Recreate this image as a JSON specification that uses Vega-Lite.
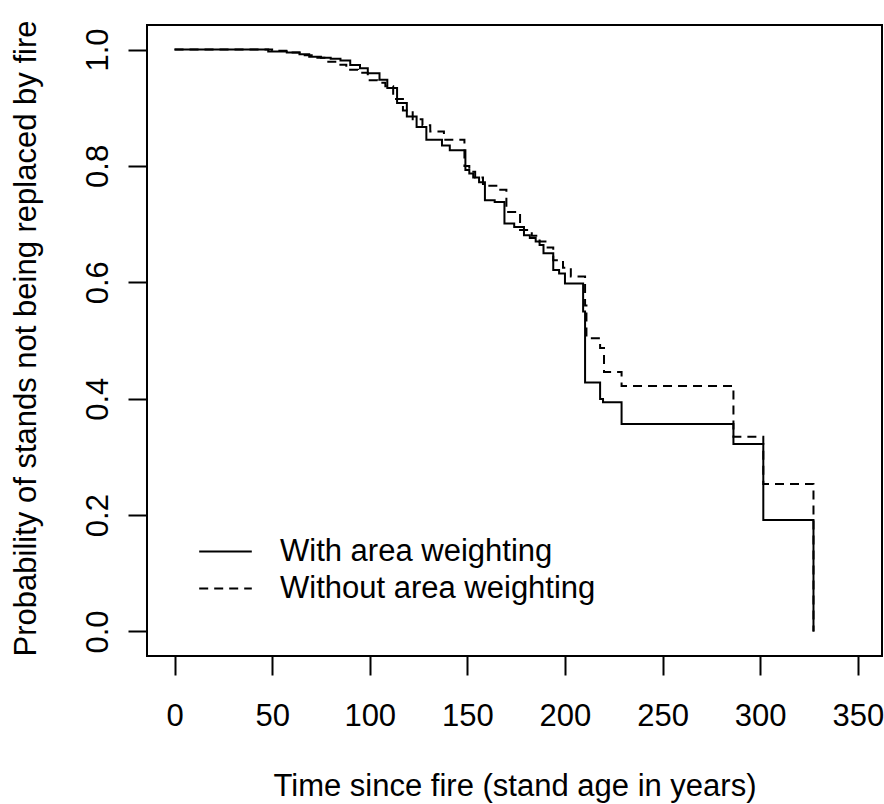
{
  "$schema": "https://vega.github.io/schema/vega-lite/v6.json",
  "width": 735,
  "height": 631,
  "autosize": {"type": "none"},
  "padding": {"left": 147, "top": 25, "right": 2, "bottom": 148},
  "background": "white",
  "config": {
    "font": "Liberation Sans",
    "view": {"stroke": "black", "strokeWidth": 2}
  },
  "data": {
    "values": [
      {"age": 0, "p": 1.0, "method": "With area weighting"},
      {"age": 48, "p": 0.9965, "method": "With area weighting"},
      {"age": 57.5, "p": 0.995, "method": "With area weighting"},
      {"age": 64, "p": 0.992, "method": "With area weighting"},
      {"age": 69, "p": 0.9875, "method": "With area weighting"},
      {"age": 75, "p": 0.986, "method": "With area weighting"},
      {"age": 80, "p": 0.984, "method": "With area weighting"},
      {"age": 85, "p": 0.981, "method": "With area weighting"},
      {"age": 90, "p": 0.9735, "method": "With area weighting"},
      {"age": 95, "p": 0.968, "method": "With area weighting"},
      {"age": 99, "p": 0.959, "method": "With area weighting"},
      {"age": 105, "p": 0.948, "method": "With area weighting"},
      {"age": 109, "p": 0.934, "method": "With area weighting"},
      {"age": 114, "p": 0.908, "method": "With area weighting"},
      {"age": 119, "p": 0.885, "method": "With area weighting"},
      {"age": 124, "p": 0.867, "method": "With area weighting"},
      {"age": 129, "p": 0.845, "method": "With area weighting"},
      {"age": 137, "p": 0.835, "method": "With area weighting"},
      {"age": 141, "p": 0.827, "method": "With area weighting"},
      {"age": 149, "p": 0.793, "method": "With area weighting"},
      {"age": 151, "p": 0.787, "method": "With area weighting"},
      {"age": 153, "p": 0.78, "method": "With area weighting"},
      {"age": 156, "p": 0.772, "method": "With area weighting"},
      {"age": 159, "p": 0.741, "method": "With area weighting"},
      {"age": 164, "p": 0.738, "method": "With area weighting"},
      {"age": 169, "p": 0.701, "method": "With area weighting"},
      {"age": 174, "p": 0.695, "method": "With area weighting"},
      {"age": 179, "p": 0.681, "method": "With area weighting"},
      {"age": 182, "p": 0.676, "method": "With area weighting"},
      {"age": 185, "p": 0.67, "method": "With area weighting"},
      {"age": 187, "p": 0.664, "method": "With area weighting"},
      {"age": 189, "p": 0.65, "method": "With area weighting"},
      {"age": 194, "p": 0.621, "method": "With area weighting"},
      {"age": 197, "p": 0.615, "method": "With area weighting"},
      {"age": 200, "p": 0.598, "method": "With area weighting"},
      {"age": 209.3, "p": 0.55, "method": "With area weighting"},
      {"age": 210.3, "p": 0.428, "method": "With area weighting"},
      {"age": 218, "p": 0.3995, "method": "With area weighting"},
      {"age": 219.5, "p": 0.394, "method": "With area weighting"},
      {"age": 229, "p": 0.3565, "method": "With area weighting"},
      {"age": 286.3, "p": 0.322, "method": "With area weighting"},
      {"age": 301.6, "p": 0.1916, "method": "With area weighting"},
      {"age": 327.3, "p": 0.0, "method": "With area weighting"},
      {"age": 0, "p": 1.0, "method": "Without area weighting"},
      {"age": 50, "p": 0.998, "method": "Without area weighting"},
      {"age": 58, "p": 0.995, "method": "Without area weighting"},
      {"age": 66, "p": 0.99, "method": "Without area weighting"},
      {"age": 72, "p": 0.986, "method": "Without area weighting"},
      {"age": 78, "p": 0.979, "method": "Without area weighting"},
      {"age": 83, "p": 0.974, "method": "Without area weighting"},
      {"age": 88, "p": 0.965, "method": "Without area weighting"},
      {"age": 94, "p": 0.96, "method": "Without area weighting"},
      {"age": 99, "p": 0.947, "method": "Without area weighting"},
      {"age": 104, "p": 0.943, "method": "Without area weighting"},
      {"age": 108, "p": 0.937, "method": "Without area weighting"},
      {"age": 112, "p": 0.915, "method": "Without area weighting"},
      {"age": 117, "p": 0.895, "method": "Without area weighting"},
      {"age": 122, "p": 0.88, "method": "Without area weighting"},
      {"age": 127, "p": 0.87, "method": "Without area weighting"},
      {"age": 131, "p": 0.859, "method": "Without area weighting"},
      {"age": 138, "p": 0.845, "method": "Without area weighting"},
      {"age": 148.5, "p": 0.8, "method": "Without area weighting"},
      {"age": 151, "p": 0.79, "method": "Without area weighting"},
      {"age": 154, "p": 0.78, "method": "Without area weighting"},
      {"age": 158, "p": 0.766, "method": "Without area weighting"},
      {"age": 166, "p": 0.759, "method": "Without area weighting"},
      {"age": 170, "p": 0.721, "method": "Without area weighting"},
      {"age": 177, "p": 0.69, "method": "Without area weighting"},
      {"age": 183, "p": 0.68, "method": "Without area weighting"},
      {"age": 187, "p": 0.67, "method": "Without area weighting"},
      {"age": 190, "p": 0.66, "method": "Without area weighting"},
      {"age": 194, "p": 0.638, "method": "Without area weighting"},
      {"age": 199, "p": 0.625, "method": "Without area weighting"},
      {"age": 203, "p": 0.61, "method": "Without area weighting"},
      {"age": 210.3, "p": 0.56, "method": "Without area weighting"},
      {"age": 211, "p": 0.504, "method": "Without area weighting"},
      {"age": 218, "p": 0.487, "method": "Without area weighting"},
      {"age": 220, "p": 0.446, "method": "Without area weighting"},
      {"age": 229, "p": 0.4218, "method": "Without area weighting"},
      {"age": 286.3, "p": 0.3348, "method": "Without area weighting"},
      {"age": 301.6, "p": 0.2534, "method": "Without area weighting"},
      {"age": 327.3, "p": 0.0, "method": "Without area weighting"}
    ]
  },
  "mark": {"type": "line", "interpolate": "step-after", "strokeWidth": 2, "color": "black"},
  "encoding": {
    "x": {
      "field": "age",
      "type": "quantitative",
      "scale": {"domain": [-14.1, 362.4], "nice": false, "zero": false},
      "axis": {
        "values": [0, 50, 100, 150, 200, 250, 300, 350],
        "domain": false,
        "grid": false,
        "tickSize": 19,
        "tickWidth": 2,
        "tickColor": "black",
        "labelFontSize": 31,
        "labelColor": "black",
        "labelBaseline": "alphabetic",
        "labelPadding": 50,
        "labelFlush": false,
        "labelOverlap": false,
        "title": "Time since fire (stand age in years)",
        "titleFontSize": 31,
        "titleFontWeight": "normal",
        "titleColor": "black",
        "titleBaseline": "alphabetic",
        "titleY": 139
      }
    },
    "y": {
      "field": "p",
      "type": "quantitative",
      "scale": {"domain": [-0.0421, 1.0421], "nice": false, "zero": false},
      "axis": {
        "values": [0, 0.2, 0.4, 0.6, 0.8, 1.0],
        "format": ".1f",
        "domain": false,
        "grid": false,
        "tickSize": 19,
        "tickWidth": 2,
        "tickColor": "black",
        "labelFontSize": 31,
        "labelColor": "black",
        "labelAngle": -90,
        "labelAlign": "center",
        "labelBaseline": "alphabetic",
        "labelPadding": 21,
        "labelOverlap": false,
        "title": "Probability of stands not being replaced by fire",
        "titleFontSize": 31,
        "titleFontWeight": "normal",
        "titleColor": "black",
        "titleAngle": -90,
        "titleAlign": "center",
        "titleBaseline": "alphabetic",
        "titleX": -112,
        "titleY": 313
      }
    },
    "strokeDash": {
      "field": "method",
      "type": "nominal",
      "scale": {
        "domain": ["With area weighting", "Without area weighting"],
        "range": [[1, 0], [9, 6]]
      },
      "legend": {
        "orient": "none",
        "legendX": 51,
        "legendY": 508,
        "padding": 0,
        "title": null,
        "symbolType": "stroke",
        "symbolSize": 2767,
        "symbolStrokeWidth": 2,
        "symbolStrokeColor": "black",
        "labelFontSize": 31,
        "labelColor": "black",
        "labelOffset": 27,
        "labelLimit": 0,
        "clipHeight": 37,
        "rowPadding": 0
      }
    }
  }
}
